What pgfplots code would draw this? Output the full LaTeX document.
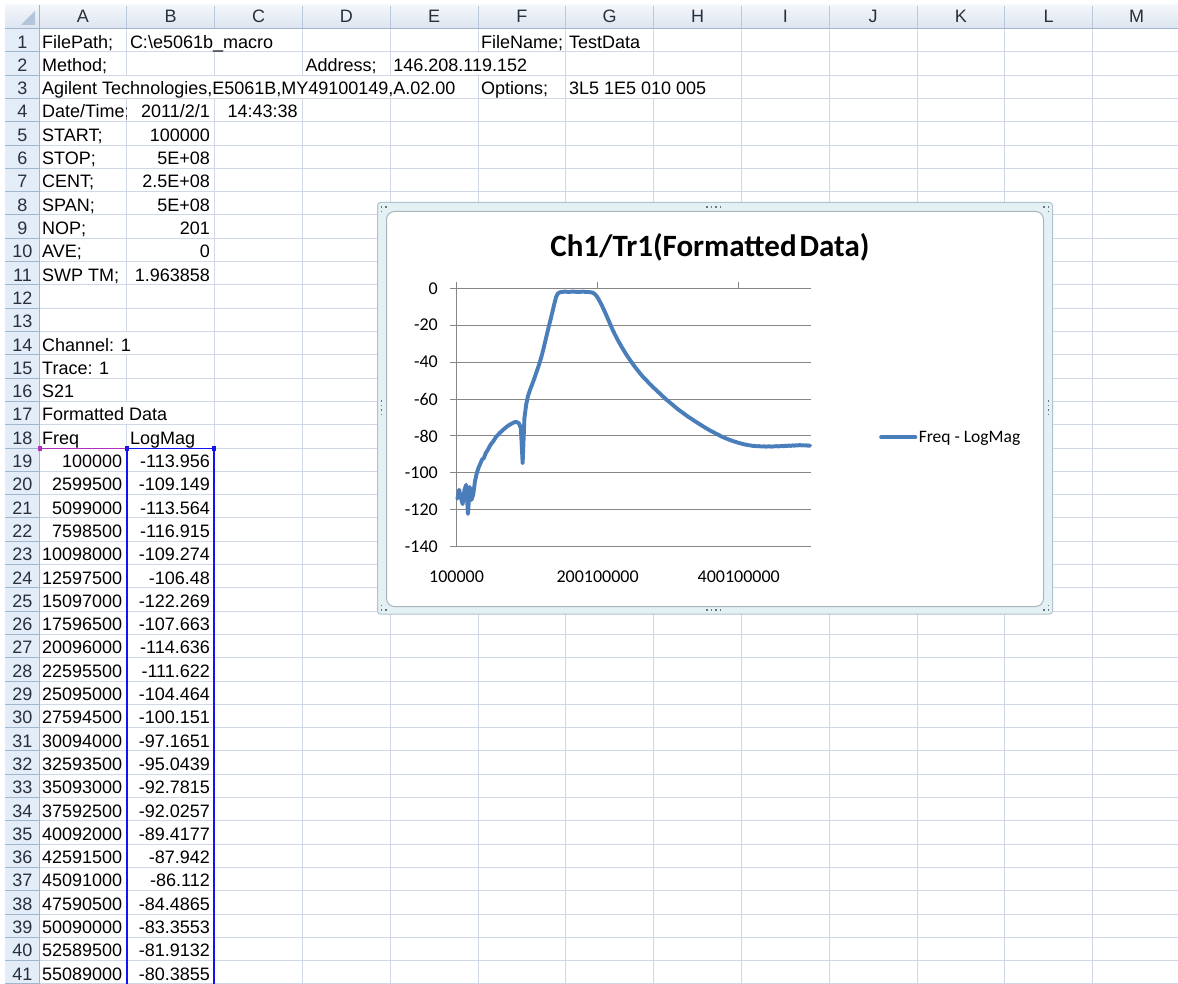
\documentclass[border=0pt]{standalone}
\usepackage{fontspec}
\setmainfont{Liberation Sans}
\newfontfamily\carlito{Carlito}
\usepackage{pgfplots}
\pgfplotsset{compat=1.18}
\usepackage{pgfplotstable}
\definecolor{gridc}{HTML}{D0D7E5}
\definecolor{hdrfill}{HTML}{E4ECF7}
\definecolor{hdrtop}{HTML}{F4F7FB}
\definecolor{hdrbot}{HTML}{DCE4EF}
\definecolor{hdrline}{HTML}{9EB6CE}
\definecolor{hdrsep}{HTML}{B9C9DB}
\definecolor{hdrtext}{HTML}{27313D}
\definecolor{cornertri}{HTML}{B3C5DB}
\definecolor{xlgray}{HTML}{868686}
\definecolor{series}{HTML}{4A7EBB}
\definecolor{selblue}{HTML}{1414F0}
\definecolor{selpurple}{HTML}{B030C0}
\definecolor{framefill}{HTML}{E4F1F4}
\definecolor{frameline}{HTML}{AFC3CE}
\definecolor{innerline}{HTML}{A9B5BD}
\definecolor{handle}{HTML}{68747C}
\newcommand\cellfont{\fontsize{18}{21}\selectfont}
\newcommand\lcell[3]{\pgfmathsetmacro\cx{39+(#1-1)*87.8+3}\pgfmathsetmacro\cy{-(28.6+#2*23.3-3.8)}\node[anchor=base west,inner sep=0pt,font=\cellfont] at (\cx,\cy) {#3};}
\newcommand\rcell[3]{\pgfmathsetmacro\cx{39+#1*87.8-4.5}\pgfmathsetmacro\cy{-(28.6+#2*23.3-3.8)}\node[anchor=base east,inner sep=0pt,font=\cellfont] at (\cx,\cy) {#3};}
\newcommand\hidev[2]{\pgfmathsetmacro\cx{39+#1*87.8}\pgfmathsetmacro\cyt{-(28.6+(#2-1)*23.3+0.7)}\pgfmathsetmacro\cyb{-(28.6+#2*23.3-0.7)}\fill[white] (\cx-1.2,\cyt) rectangle (\cx+1.2,\cyb);}
\newcommand\hdot[2]{\fill[handle] (#1-0.9,#2-0.9) rectangle (#1+0.9,#2+0.9);}

\pgfplotstableread{
i v
0 -113.956
1 -109.149
2 -113.564
3 -116.915
4 -109.274
5 -106.48
6 -122.269
7 -107.663
8 -114.636
9 -111.622
10 -104.464
11 -100.151
12 -97.1651
13 -95.0439
14 -92.7815
15 -92.0257
16 -89.4177
17 -87.942
18 -86.112
19 -84.4865
20 -83.3553
21 -81.9132
22 -80.3855
23 -79.4
24 -78.4
25 -77.5
26 -76.6
27 -75.8
28 -75.0
29 -74.3
30 -73.7
31 -73.2
32 -72.7
33 -72.4
34 -72.6
35 -73.3
36 -75.8
37 -94.8
38 -70.5
39 -63.0
40 -58.5
41 -55.5
42 -53.0
43 -50.5
44 -47.8
45 -45.0
46 -42.2
47 -39.2
48 -35.8
49 -32.0
50 -28.0
51 -24.0
52 -20.0
53 -16.3
54 -12.3
55 -8.3
56 -4.6
57 -2.8
58 -2.2
59 -2.0
60 -1.9
61 -1.8
62 -1.9
63 -2.0
64 -1.9
65 -1.8
66 -1.8
67 -1.9
68 -1.9
69 -2.0
70 -1.9
71 -1.8
72 -1.9
73 -2.0
74 -2.0
75 -2.1
76 -2.2
77 -2.5
78 -3.2
79 -4.3
80 -5.8
81 -7.6
82 -9.5
83 -11.5
84 -13.6
85 -15.8
86 -18.0
87 -20.2
88 -22.4
89 -24.4
90 -26.3
91 -28.1
92 -29.8
93 -31.5
94 -33.1
95 -34.7
96 -36.2
97 -37.6
98 -39.0
99 -40.4
100 -41.7
101 -43.0
102 -44.2
103 -45.4
104 -46.6
105 -47.7
106 -48.7
107 -49.7
108 -50.7
109 -51.7
110 -52.6
111 -53.6
112 -54.5
113 -55.4
114 -56.3
115 -57.2
116 -58.1
117 -59.0
118 -59.9
119 -60.7
120 -61.5
121 -62.3
122 -63.1
123 -63.9
124 -64.7
125 -65.5
126 -66.2
127 -66.9
128 -67.6
129 -68.3
130 -69.0
131 -69.7
132 -70.3
133 -70.9
134 -71.6
135 -72.2
136 -72.8
137 -73.4
138 -74.0
139 -74.6
140 -75.2
141 -75.8
142 -76.3
143 -76.9
144 -77.4
145 -77.9
146 -78.4
147 -78.9
148 -79.4
149 -79.9
150 -80.4
151 -80.8
152 -81.2
153 -81.6
154 -82.0
155 -82.3
156 -82.7
157 -83.0
158 -83.3
159 -83.6
160 -83.9
161 -84.1
162 -84.4
163 -84.6
164 -84.8
165 -85.0
166 -85.1
167 -85.3
168 -85.4
169 -85.5
170 -85.6
171 -85.5
172 -85.7
173 -85.7
174 -85.6
175 -85.8
176 -85.7
177 -85.6
178 -85.8
179 -85.7
180 -85.6
181 -85.5
182 -85.7
183 -85.5
184 -85.4
185 -85.6
186 -85.3
187 -85.4
188 -85.2
189 -85.4
190 -85.1
191 -85.3
192 -85.0
193 -85.2
194 -84.9
195 -85.1
196 -85.0
197 -85.2
198 -85.1
199 -85.3
200 -85.2
}\datatab

\begin{document}
\begin{tikzpicture}[x=1pt,y=1pt]
\useasboundingbox (0,0) rectangle (1178,-984);
\fill[white] (0,0) rectangle (1178,-984);
% cell grid
\foreach \k in {0,...,42} {\pgfmathsetmacro\yy{-(28.6+\k*23.3)}\draw[gridc,line width=1pt] (39,\yy) -- (1178,\yy);}
\foreach \c in {1,...,13} {\pgfmathsetmacro\xx{39+\c*87.8}\draw[gridc,line width=1pt] (\xx,-28.6) -- (\xx,-984);}
% hide gridlines under overflowing text
\hidev{2}{1}
\hidev{5}{2}
\hidev{1}{3}\hidev{2}{3}\hidev{3}{3}\hidev{4}{3}\hidev{7}{3}
\hidev{1}{14}
\hidev{1}{17}
% column header
\shade[top color=hdrtop,bottom color=hdrbot] (39,-5) rectangle (1178,-28.6);
\foreach \c in {1,...,13} {\pgfmathsetmacro\xx{39+\c*87.8}\draw[hdrsep,line width=1pt] (\xx,-6) -- (\xx,-28.6);}
\foreach \c/\L in {1/A,2/B,3/C,4/D,5/E,6/F,7/G,8/H,9/I,10/J,11/K,12/L,13/M} {\pgfmathsetmacro\xx{39+(\c-0.5)*87.8}\node[anchor=base,inner sep=0pt,font=\cellfont,text=hdrtext] at (\xx,-23) {\L};}
% row header
\fill[hdrfill] (5,-28.6) rectangle (39,-984);
\foreach \k in {1,...,41} {\pgfmathsetmacro\yy{-(28.6+\k*23.3)}\draw[hdrline,line width=1pt] (5,\yy) -- (39,\yy);
 \pgfmathsetmacro\yb{-(28.6+\k*23.3-3.8)}\node[anchor=base,inner sep=0pt,font=\cellfont,text=hdrtext] at (22.5,\yb) {\k};}
% corner
\shade[top color=hdrtop,bottom color=hdrbot] (5,-5) rectangle (39,-28.6);
\fill[cornertri] (35,-11) -- (35,-25) -- (21,-25) -- cycle;
\draw[hdrline,line width=1pt] (5,-28.6) -- (1178,-28.6);
\draw[hdrline,line width=1pt] (39,-5) -- (39,-984);
% cell text
\lcell{1}{1}{FilePath;}
\lcell{2}{1}{C:\textbackslash e5061b\_macro}
\lcell{6}{1}{FileName;}
\lcell{7}{1}{TestData}
\lcell{1}{2}{Method;}
\lcell{4}{2}{Address;}
\lcell{5}{2}{146.208.119.152}
\lcell{1}{3}{Agilent Technologies,E5061B,MY49100149,A.02.00}
\lcell{6}{3}{Options;}
\lcell{7}{3}{3L5 1E5 010 005}
\begin{scope}\clip (39,-98.5) rectangle (126.7,-121.8);\lcell{1}{4}{Date/Time;}\end{scope}
\rcell{2}{4}{2011/2/1}
\rcell{3}{4}{14:43:38}
\lcell{1}{5}{START;}\rcell{2}{5}{100000}
\lcell{1}{6}{STOP;}\rcell{2}{6}{5E+08}
\lcell{1}{7}{CENT;}\rcell{2}{7}{2.5E+08}
\lcell{1}{8}{SPAN;}\rcell{2}{8}{5E+08}
\lcell{1}{9}{NOP;}\rcell{2}{9}{201}
\lcell{1}{10}{AVE;}\rcell{2}{10}{0}
\lcell{1}{11}{SWP TM;}\rcell{2}{11}{1.963858}
\lcell{1}{14}{Channel: 1}
\lcell{1}{15}{Trace: 1}
\lcell{1}{16}{S21}
\lcell{1}{17}{Formatted Data}
\lcell{1}{18}{Freq}\lcell{2}{18}{LogMag}
\foreach \r/\f/\v in {19/100000/-113.956,20/2599500/-109.149,21/5099000/-113.564,22/7598500/-116.915,23/10098000/-109.274,24/12597500/-106.48,25/15097000/-122.269,26/17596500/-107.663,27/20096000/-114.636,28/22595500/-111.622,29/25095000/-104.464,30/27594500/-100.151,31/30094000/-97.1651,32/32593500/-95.0439,33/35093000/-92.7815,34/37592500/-92.0257,35/40092000/-89.4177,36/42591500/-87.942,37/45091000/-86.112,38/47590500/-84.4865,39/50090000/-83.3553,40/52589500/-81.9132,41/55089000/-80.3855} {\rcell{1}{\r}{\f}\rcell{2}{\r}{\v}}
% selection ranges
\draw[selpurple,line width=1.5pt] (40,-448.3) -- (127,-448.3);
\draw[selblue,line width=1.5pt] (127,-984) -- (127,-448.3) -- (214,-448.3) -- (214,-984);
\fill[selpurple] (37.8,-446.1) rectangle (42.2,-450.5);
\fill[selblue] (124.8,-446.1) rectangle (129.2,-450.5);
\fill[selblue] (211.8,-446.1) rectangle (216.2,-450.5);
% chart frame
\draw[frameline,fill=framefill,line width=1pt,rounded corners=3pt] (377.5,-202.5) rectangle (1052.5,-614);
\draw[innerline,fill=white,line width=1pt,rounded corners=8pt] (386.5,-211.5) rectangle (1043.5,-606.5);
\foreach \xx in {707,711.5,716,720.5} {\hdot{\xx}{-207}\hdot{\xx}{-610}}
\foreach \yy in {-401,-405.5,-410,-414.5} {\hdot{381.5}{\yy}\hdot{1048.5}{\yy}}
\hdot{381.5}{-207}\hdot{386}{-207}\hdot{381.5}{-211.5}
\hdot{1048.5}{-207}\hdot{1044}{-207}\hdot{1048.5}{-211.5}
\hdot{381.5}{-610}\hdot{386}{-610}\hdot{381.5}{-605.5}
\hdot{1048.5}{-610}\hdot{1044}{-610}\hdot{1048.5}{-605.5}
% title
\node[anchor=base,inner sep=0pt,font=\carlito\bfseries\fontsize{31}{34}\selectfont] at (710,-257) {Ch1/Tr1(Formatted\hspace{3pt}Data)};
\begin{axis}[
  at={(456.5pt,-546.7pt)}, anchor=south west,
  scale only axis, width=354.5pt, height=258.4pt,
  xmin=-0.5, xmax=200.5, ymin=-140, ymax=0,
  axis line style={draw=none},
  ytick={-140,-120,-100,-80,-60,-40,-20,0},
  yticklabels={-140,-120,-100,-80,-60,-40,-20,0},
  xtick={-0.5,79.5,159.5},
  xticklabels={100000,200100000,400100000},
  xtick pos=right, xticklabel pos=left, ytick pos=left,
  tick align=outside, major tick length=6.5pt,
  tick style={draw=xlgray,line width=1pt},
  ymajorgrids, grid style={draw=xlgray,line width=1pt},
  tick label style={font=\carlito\fontsize{18}{20}\selectfont},
  yticklabel style={anchor=east,inner sep=0pt,xshift=-12pt},
  xticklabel style={anchor=center,inner sep=0pt,yshift=-24pt},
  legend style={at={(1.1918,0.4234)}, anchor=west, draw=none, fill=none, inner sep=0pt,
    font=\carlito\fontsize{17.5}{20}\selectfont, nodes={inner sep=1.5pt}},
  legend cell align=left,
  legend image code/.code={\draw[#1] (1.9pt,0pt) -- (36.1pt,0pt);},
  clip=false,
]
\draw[xlgray,line width=1pt] (axis cs:-0.5,-140) -- (axis cs:-0.5,0);
\addplot[series, line width=3.9pt, line join=round, line cap=round] table[x=i,y=v] {\datatab};
\addlegendentry{Freq - LogMag}
\end{axis}
\end{tikzpicture}
\end{document}
